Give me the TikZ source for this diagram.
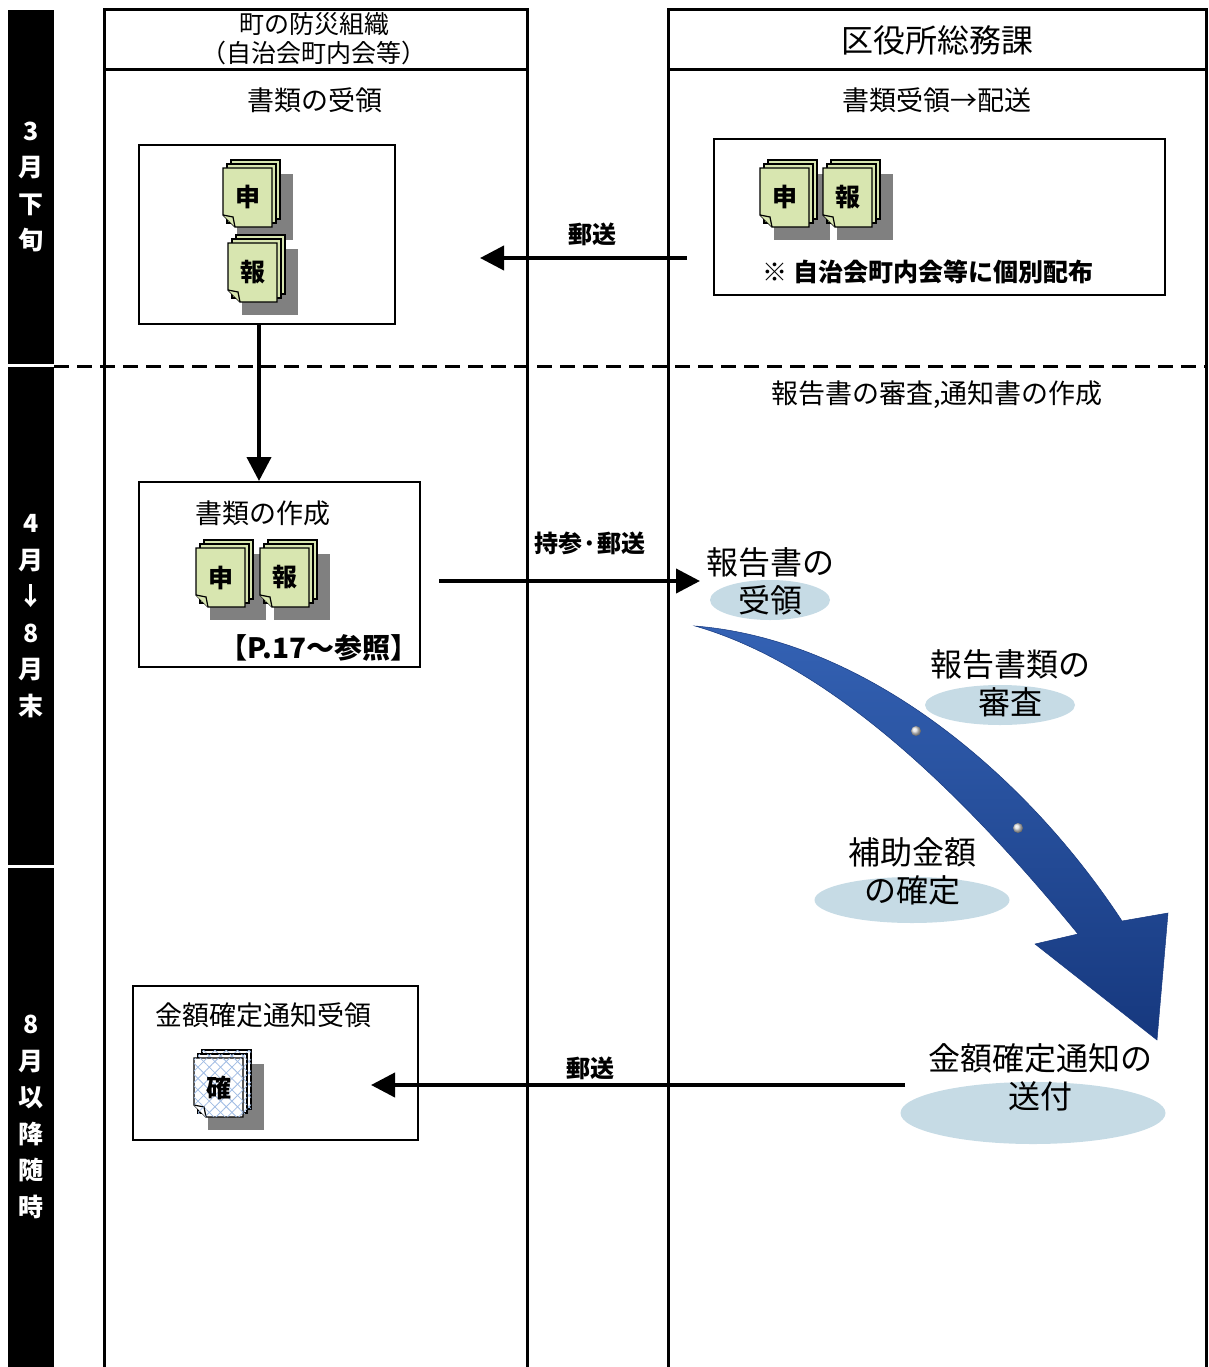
\documentclass[tikz,border=0pt]{standalone}
\usepackage{fontspec}
\setmainfont{Noto Sans CJK JP}
\usetikzlibrary{arrows.meta,shapes.geometric,patterns.meta,positioning}

\definecolor{docgreen}{RGB}{216,230,176}
\definecolor{docshade}{RGB}{128,128,128}
\definecolor{hatchblue}{RGB}{160,188,228}
\definecolor{ovalblue}{RGB}{198,219,229}
\definecolor{arrowdark}{RGB}{22,56,126}
\definecolor{arrowlight}{RGB}{52,98,180}

\tikzset{every picture/.style={line width=0.75pt}}
\tikzset{
  lane/.style={line width=3pt},
  phase/.style={line width=3pt, dash pattern=on 15pt off 8pt},
  docbox/.style={draw, line width=2pt, rectangle, inner sep=0pt},
  flow/.style={line width=4pt, -{Triangle[length=24pt,width=24pt]}},
  flowtxt/.style={inner sep=0.75pt, font=\bfseries\fontsize{24}{28}\selectfont},
  lanehead/.style={inner sep=0.75pt, align=center},
  lanettl/.style={inner sep=0.75pt, font=\fontsize{27}{32}\selectfont},
  bandtxt/.style={inner sep=0.75pt, align=center, text=white, font=\bfseries\fontsize{25}{36.5}\selectfont},
  oval/.style={ellipse, fill=ovalblue, inner sep=0pt},
  steptxt/.style={inner sep=0.75pt, align=center, font=\fontsize{32}{38}\selectfont},
  greenpage/.style={draw=black, line width=1.2pt, fill=docgreen},
  bluepage/.style={draw=black, line width=1.2pt, fill=white,
    postaction={pattern={Lines[angle=45,distance=8pt,line width=0.8pt]}, pattern color=hatchblue},
    postaction={pattern={Lines[angle=-45,distance=8pt,line width=0.8pt]}, pattern color=hatchblue}},
  docchar/.style={inner sep=0pt, font=\bfseries\fontsize{25}{27}\selectfont},
}

% stack of three sheets with a shadow: name, x, y (front top left), letter, sheet style
\newcommand{\docstack}[5]{%
  \fill[docshade] (#2+14,#3+6) rectangle (#2+70,#3+72);
  \draw[#5] (#2+8,#3-8) rectangle (#2+57,#3+51);
  \draw[#5] (#2+4,#3-4) rectangle (#2+53,#3+55);
  \draw[#5] (#2,#3) -- (#2+49,#3) -- (#2+49,#3+59) -- (#2+12,#3+59) -- (#2,#3+47) -- cycle;
  \draw[#5] (#2,#3+47) -- (#2+10,#3+49) -- (#2+12,#3+59);
  \node[docchar] (#1) at (#2+24.5,#3+29.5) {#4};
}

\begin{document}
\begin{tikzpicture}[x=1pt,y=1pt,yscale=-1]
\useasboundingbox (0,0) rectangle (1208,1367);

%Time band
\fill (8,10) rectangle (54,364);
\fill (8,367) rectangle (54,865);
\fill (8,868) rectangle (54,1367);
\node[bandtxt] (mar) at (31,187) {3\\月\\下\\旬};
\node[bandtxt] (aprtoaug) at (31,616) {4\\月\\↓\\8\\月\\末};
\node[bandtxt] (augon) at (31,1117) {8\\月\\以\\降\\随\\時};

%Lanes
\draw[lane] (104,1367) -- (104,10) -- (527,10) -- (527,1367);
\draw[lane] (104,70) -- (527,70);
\draw[lane] (668,1367) -- (668,10) -- (1206,10) -- (1206,1367);
\draw[lane] (668,70) -- (1206,70);
\draw[phase] (54,366) -- (1208,366);

% Lane headers
\node[lanehead, font=\fontsize{25}{29}\selectfont] (orghead) at (314,39) {町の防災組織\\（自治会町内会等）};
\node[lanehead, font=\fontsize{32}{36}\selectfont] (wardhead) at (937,40) {区役所総務課};
\node[lanettl] (recvttl) at (315,100) {書類の受領};
\node[lanettl] (distttl) at (937,100) {書類受領→配送};
\node[lanettl] (checkttl) at (937,395) {報告書の審査,通知書の作成};

% Boxes
\node[docbox, minimum width=256pt, minimum height=179pt] (recv) at (267,234.5) {};
\node[docbox, minimum width=451pt, minimum height=156pt] (dist) at (939.5,217) {};
\node[docbox, minimum width=281pt, minimum height=185pt] (make) at (279.5,574.5) {};
\node[docbox, minimum width=285pt, minimum height=154pt] (notice) at (275.5,1063) {};

% Sheets
\docstack{recvA}{223}{168}{申}{greenpage}
\docstack{recvB}{228}{243}{報}{greenpage}
\docstack{distA}{760}{168}{申}{greenpage}
\docstack{distB}{823}{168}{報}{greenpage}
\docstack{makeA}{196}{548}{申}{greenpage}
\docstack{makeB}{260}{548}{報}{greenpage}
\docstack{noticeA}{194}{1058}{確}{bluepage}

% Box texts
\node[inner sep=0.75pt, font=\bfseries\fontsize{25}{28}\selectfont] (distnote) at (928,272) {※ 自治会町内会等に個別配布};
\node[lanettl] (makettl) at (263,513) {書類の作成};
\node[inner sep=0.75pt, font=\bfseries\fontsize{28}{30}\selectfont] (makeref) at (319,648) {【P.17～参照】};
\node[lanettl] (noticettl) at (263,1015) {金額確定通知受領};

% Steps
\node[oval, minimum width=120pt, minimum height=40pt] (e1) at (770,600) {};
\node[oval, minimum width=150pt, minimum height=40pt] (e2) at (1000,705) {};
\node[oval, minimum width=195pt, minimum height=46pt] (e3) at (912,900) {};
\node[oval, minimum width=265pt, minimum height=62pt] (e4) at (1033,1113) {};

% Big arrow
\shade[top color=arrowlight, bottom color=arrowdark, draw=arrowdark, line width=0.5pt]
  (695,626) .. controls (870,640) and (1030,780) .. (1122,921)
  -- (1168,913) -- (1157,1040) -- (1035,944) -- (1078,934)
  .. controls (960,790) and (830,665) .. (695,626) -- cycle;
\shade[ball color=white!75!gray] (916,731) circle (5);
\shade[ball color=white!75!gray] (1018,828) circle (5);

\node[steptxt] (t1) at (770,581) {報告書の\\受領};
\node[steptxt] (t2) at (1010,683) {報告書類の\\審査};
\node[steptxt] (t3) at (912,871) {補助金額\\の確定};
\node[steptxt] (t4) at (1040,1077) {金額確定通知の\\送付};

% Connectors
\coordinate (m1) at (480,258);
\draw[flow, shorten <=26pt] (dist.west |- m1) -- (m1);
\node[flowtxt] (l1) at (592,234) {郵送};

\coordinate (d1) at (259,324);
\draw[flow] (d1) -- (d1 |- make.north);

\coordinate (m2) at (700,581);
\draw[flow, shorten <=18pt] (make.east |- m2) -- (m2);
\node[flowtxt] (l2) at (590,543) {持参·郵送};

\coordinate (s3) at (905,1085);
\draw[flow, shorten >=-48pt] (s3) -- (notice.east |- s3);
\node[flowtxt] (l3) at (590,1068) {郵送};
\end{tikzpicture}
\end{document}
